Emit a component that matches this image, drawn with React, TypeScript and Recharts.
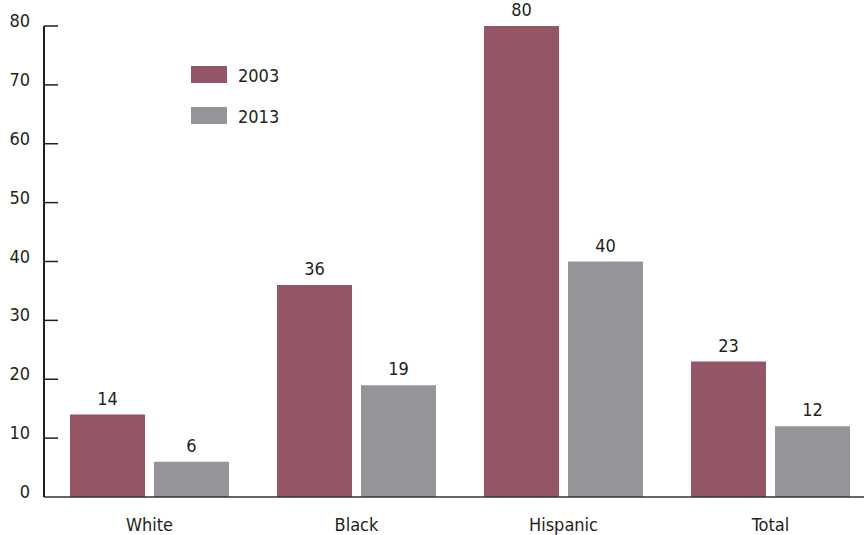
import { BarChart, Bar, XAxis, YAxis, LabelList } from "recharts";

const categories = ["White", "Black", "Hispanic", "Total"];
const values2003 = [14, 36, 80, 23];
const values2013 = [6, 19, 40, 12];
const yTicks = [0, 10, 20, 30, 40, 50, 60, 70, 80];
const seriesNames = ["2003", "2013"];

const RED = "#945564";
const GRAY = "#949598";
const INK = "#231f20";
const FONT = "'DejaVu Sans Condensed', 'Liberation Sans Narrow', sans-serif";
const FS = 18;

const data = categories.map((c, i) => ({
  group: c,
  y2003: values2003[i],
  y2013: values2013[i],
}));

// y tick: short line pointing into the plot, label to the left
function YTick(props: any) {
  const { x, y, payload } = props;
  return (
    <g>
      {payload.value !== 0 && (
        <line x1={x} y1={y} x2={x + 14} y2={y} stroke={INK} strokeWidth={1.5} />
      )}
      <text x={x - 14} y={y + 1} textAnchor="end" fontFamily={FONT} fontSize={FS} fill={INK}>
        {payload.value}
      </text>
    </g>
  );
}

function LegendBox() {
  const colors = [RED, GRAY];
  return (
    <div
      style={{
        position: "absolute",
        left: 191,
        top: 66,
        fontFamily: FONT,
        fontSize: FS,
        color: INK,
      }}
    >
      {seriesNames.map((name, i) => (
        <div key={name} style={{ display: "flex", alignItems: "center", height: 17, marginBottom: 24 }}>
          <div style={{ width: 36, height: 17, background: colors[i], marginRight: 11 }} />
          <span style={{ lineHeight: "17px", position: "relative", top: 1 }}>{name}</span>
        </div>
      ))}
    </div>
  );
}

export default function App() {
  return (
    <div
      style={{
        position: "absolute",
        left: 0,
        top: 0,
        width: 864,
        height: 535,
        overflow: "hidden",
        background: "#fff",
      }}
    >
      <BarChart
        width={874}
        height={535}
        data={data}
        margin={{ top: 26, right: 0, bottom: 0, left: 4 }}
        barGap={9}
      >
        <XAxis
          dataKey="group"
          height={38}
          padding={{ left: 2, right: 0 }}
          axisLine={{ stroke: "#333", strokeWidth: 1.5 }}
          tickLine={false}
          tickSize={0}
          tickMargin={21}
          tick={{ fontFamily: FONT, fontSize: FS, fill: INK }}
        />
        <YAxis
          width={40}
          domain={[0, 80]}
          ticks={yTicks}
          interval={0}
          axisLine={{ stroke: INK, strokeWidth: 2 }}
          tickLine={false}
          tickSize={0}
          tickMargin={0}
          tick={<YTick />}
        />
        <Bar dataKey="y2003" name="2003" fill={RED} barSize={75} isAnimationActive={false}>
          <LabelList dataKey="y2003" position="top" offset={10} fontFamily={FONT} fontSize={FS} fill={INK} />
        </Bar>
        <Bar dataKey="y2013" name="2013" fill={GRAY} barSize={75} isAnimationActive={false}>
          <LabelList dataKey="y2013" position="top" offset={10} fontFamily={FONT} fontSize={FS} fill={INK} />
        </Bar>
      </BarChart>
      <LegendBox />
    </div>
  );
}
